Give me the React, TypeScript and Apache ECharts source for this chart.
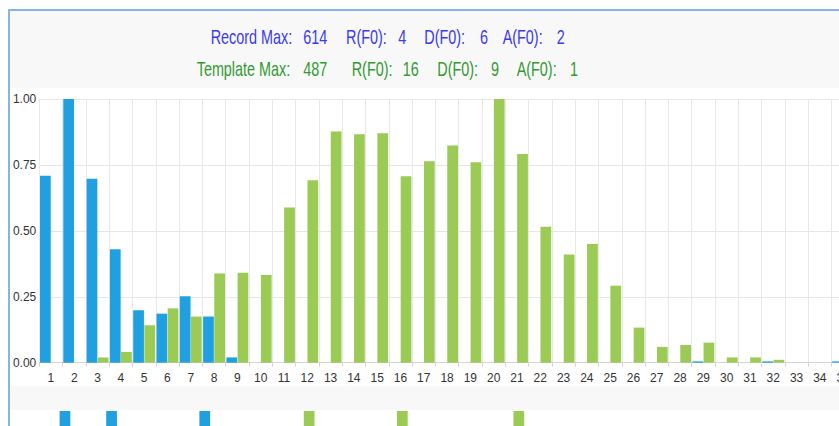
import React, { useEffect, useRef } from "react";
import * as echarts from "echarts";

const categories = Array.from({ length: 35 }, (_, i) => String(i + 1));

const recordValues = [
  0.709, 1.0, 0.698, 0.43, 0.199, 0.186, 0.252, 0.175, 0.02, 0,
  0, 0, 0, 0, 0, 0, 0, 0, 0, 0,
  0, 0, 0, 0, 0, 0, 0, 0, 0.005, 0,
  0, 0.005, 0, 0, 0.005,
];

const templateValues = [
  0, 0, 0.02, 0.041, 0.142, 0.206, 0.175, 0.338, 0.341, 0.333,
  0.589, 0.692, 0.877, 0.866, 0.87, 0.707, 0.764, 0.824, 0.76, 1.0,
  0.791, 0.516, 0.41, 0.45, 0.292, 0.133, 0.06, 0.067, 0.076, 0.02,
  0.02, 0.011, 0, 0, 0,
];

const yTicks = [0, 0.25, 0.5, 0.75, 1];

const recordMarks = ["2", "4", "8"];
const templateMarks = ["12", "16", "21"];

const recordHeader = ["Record Max:", "614", "R(F0):", "4", "D(F0):", "6", "A(F0):", "2"];
const templateHeader = ["Template Max:", "487", "R(F0):", "16", "D(F0):", "9", "A(F0):", "1"];
const recordHeaderX = [210.7, 303.3, 346, 398.3, 424.3, 480, 502.7, 556.7];
const templateHeaderX = [196.7, 303.3, 351.7, 402.7, 437.3, 491, 516.7, 570];

const BLUE = "#20a0e0";
const GREEN = "#9bca55";

export default function App() {
  const ref = useRef<HTMLDivElement>(null);

  useEffect(() => {
    if (!ref.current) return;
    const chart = echarts.init(ref.current, null, { renderer: "svg" });

    const headerText = (chunks: string[], xs: number[], y: number, color: string) =>
      chunks.map((t, i) => ({
        type: "text",
        x: xs[i],
        y,
        scaleX: 0.72,
        z: 10,
        silent: true,
        style: {
          text: t,
          fill: color,
          font: "20px 'Liberation Sans', Arial, sans-serif",
          textAlign: "left",
          textVerticalAlign: "middle",
        },
      }));

    const markData = (marks: string[]) => categories.map((c) => (marks.includes(c) ? 1 : 0));

    chart.setOption({
      animation: false,
      backgroundColor: "#ffffff",
      graphic: [
        { type: "rect", z: -10, silent: true, shape: { x: 10, y: 11, width: 900, height: 77 }, style: { fill: "#f8f8f8" } },
        { type: "rect", z: -10, silent: true, shape: { x: 10, y: 386, width: 900, height: 24 }, style: { fill: "#f8f8f8" } },
        { type: "rect", z: 20, silent: true, shape: { x: 9, y: 10, width: 900, height: 500 }, style: { fill: "none", stroke: "#86b5e3", lineWidth: 2 } },
        ...headerText(recordHeader, recordHeaderX, 37, "#3a3af0"),
        ...headerText(templateHeader, templateHeaderX, 69, "#339a33"),
      ],
      grid: [
        { left: 39.3, top: 99, width: 815.5, height: 263.7, containLabel: false, outerBoundsMode: "none" },
        { left: 35.6, top: 411, width: 815.5, height: 40, containLabel: false, outerBoundsMode: "none" },
      ],
      xAxis: [
        {
          type: "category",
          gridIndex: 0,
          data: categories,
          axisLine: { lineStyle: { color: "#d4d4d4" } },
          axisTick: { show: true, length: 4, lineStyle: { color: "#d4d4d4" } },
          axisLabel: {
            interval: 0,
            margin: 9,
            color: "#333333",
            fontSize: 12,
            fontFamily: "'Liberation Sans', Arial, sans-serif",
          },
          splitLine: { show: true, interval: 0, lineStyle: { color: "#e8e8e8" } },
        },
        {
          type: "category",
          gridIndex: 1,
          data: categories,
          show: false,
        },
      ],
      yAxis: [
        {
          type: "value",
          gridIndex: 0,
          min: 0,
          max: 1,
          interval: 0.25,
          axisLine: { show: false },
          axisTick: { show: false },
          axisLabel: {
            margin: 3,
            color: "#333333",
            fontSize: 12,
            fontFamily: "'Liberation Sans', Arial, sans-serif",
            formatter: (v: number) => (yTicks.includes(v) ? v.toFixed(2) : ""),
          },
          splitLine: { show: true, lineStyle: { color: "#e6e6e6" } },
        },
        { type: "value", gridIndex: 1, min: 0, max: 1, show: false },
      ],
      series: [
        {
          name: "Record",
          type: "bar",
          xAxisIndex: 0,
          yAxisIndex: 0,
          data: recordValues,
          barGap: "4%",
          barCategoryGap: "6%",
          itemStyle: { color: BLUE },
        },
        {
          name: "Template",
          type: "bar",
          xAxisIndex: 0,
          yAxisIndex: 0,
          data: templateValues,
          barGap: "4%",
          barCategoryGap: "6%",
          itemStyle: { color: GREEN },
        },
        {
          name: "Record marks",
          type: "bar",
          xAxisIndex: 1,
          yAxisIndex: 1,
          data: markData(recordMarks),
          barGap: "4%",
          barCategoryGap: "6%",
          itemStyle: { color: BLUE },
        },
        {
          name: "Template marks",
          type: "bar",
          xAxisIndex: 1,
          yAxisIndex: 1,
          data: markData(templateMarks),
          barGap: "4%",
          barCategoryGap: "6%",
          itemStyle: { color: GREEN },
        },
      ],
    });

    return () => chart.dispose();
  }, []);

  return (
    <div
      ref={ref}
      style={{ position: "fixed", left: 0, top: 0, width: 839, height: 426, overflow: "hidden" }}
    />
  );
}
